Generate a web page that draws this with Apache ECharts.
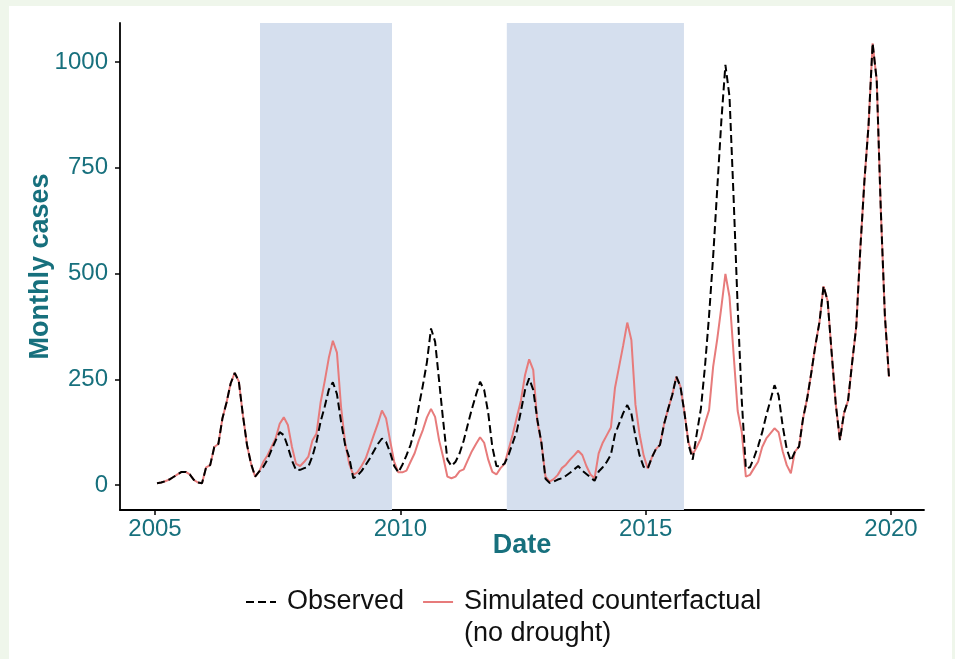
<!DOCTYPE html>
<html><head><meta charset="utf-8">
<script src="https://cdn.jsdelivr.net/npm/echarts@6/dist/echarts.min.js"></script>
<style>
html,body{margin:0;padding:0;background:#eff6eb;width:955px;height:659px;overflow:hidden;}
#frame{position:absolute;left:9px;top:6px;width:943px;height:653px;background:#ffffff;}
#chart{position:absolute;left:0;top:0;width:955px;height:659px;}
</style></head>
<body><div id="frame"></div><div id="chart"></div>
<script>
// Monthly series, Jan 2005 .. Dec 2019
const startYear = 2005;
const observed = [
  4,6,9,13,19,25,31,31,25,12,6,4,
  42,47,90,97,158,195,240,265,245,165,95,50,
  20,32,43,60,83,105,125,118,90,58,35,36,
  40,43,68,102,150,185,225,243,215,150,95,65,
  16,22,33,47,62,80,97,110,102,77,45,30,
  48,70,95,130,185,235,290,370,339,245,150,60,
  45,55,75,105,143,180,213,244,225,170,90,45,
  44,51,72,100,128,175,225,252,225,155,100,15,
  5,8,13,16,22,29,37,45,34,26,18,10,
  32,42,55,72,120,145,170,189,169,115,70,43,
  39,65,85,95,144,180,213,256,233,170,95,60,
  122,180,280,400,540,700,860,993,918,680,420,200,
  39,42,65,92,125,165,200,236,212,140,85,57,
  79,91,158,205,265,330,385,470,435,310,190,106,
  170,200,290,375,560,720,850,1044,957,650,400,256
];
const simulated = [
  4,6,9,13,19,25,31,31,25,12,6,4,
  42,47,90,97,158,195,240,265,245,165,95,50,
  20,32,55,70,90,110,145,160,142,90,50,45,
  55,67,105,122,195,245,300,341,313,185,100,50,
  24,30,45,62,90,118,145,176,158,105,55,30,
  30,34,55,75,105,130,160,180,161,105,65,20,
  16,20,33,37,59,80,97,113,100,60,31,25,
  40,50,85,120,161,200,260,297,272,150,100,20,
  8,14,24,40,48,60,70,81,71,45,25,16,
  75,100,118,136,230,280,330,384,343,190,120,70,
  39,65,85,95,144,180,213,256,233,170,99,72,
  90,110,146,177,280,345,420,499,445,310,175,125,
  20,24,40,55,90,110,122,134,125,80,47,28,
  79,91,158,205,265,330,385,470,435,310,190,106,
  170,200,290,375,560,720,850,1044,957,650,400,256
];
const droughtPeriods = [[2007.14, 2009.83], [2012.17, 2015.78]];
const xTicks = [2005, 2010, 2015, 2020];
const yTicks = [0, 250, 500, 750, 1000];
const seriesNames = ['Observed', 'Simulated counterfactual (no drought)'];
const legendLabels = {'Observed': 'Observed', 'Simulated counterfactual (no drought)': '\nSimulated counterfactual\n(no drought)'};

const teal = '#17707d';
const font = 'Liberation Sans, Arial, Helvetica, sans-serif';
const monthX = i => startYear + (i + 0.5) / 12;
const obsData = observed.map((v, i) => [monthX(i), v]);
const simData = simulated.map((v, i) => [monthX(i), v]);

const chart = echarts.init(document.getElementById('chart'), null, {renderer: 'canvas'});
chart.setOption({
  backgroundColor: 'transparent',
  animation: false,
  textStyle: {fontFamily: font},
  grid: {left: 120, top: 23, right: 31, bottom: 149, containLabel: false},
  xAxis: {
    type: 'value', min: 2004.287, max: 2020.672,
    name: 'Date', nameLocation: 'middle', nameGap: 22, nameMoveOverlap: false,
    nameTextStyle: {color: teal, fontSize: 27, fontWeight: 'bold', fontFamily: font},
    axisLine: {show: true, onZero: false, lineStyle: {color: '#000', width: 1.8}},
    axisTick: {show: true, customValues: xTicks, length: 5, lineStyle: {color: '#000', width: 1.5}},
    axisLabel: {customValues: xTicks, color: teal, fontSize: 24, margin: 7, fontFamily: font,
      formatter: v => String(v)},
    splitLine: {show: false}
  },
  yAxis: {
    type: 'value', min: -59, max: 1092,
    name: 'Monthly cases', nameLocation: 'middle', nameGap: 66, nameMoveOverlap: false,
    nameTextStyle: {color: teal, fontSize: 27, fontWeight: 'bold', fontFamily: font},
    axisLine: {show: true, onZero: false, lineStyle: {color: '#000', width: 1.8}},
    axisTick: {show: true, customValues: yTicks, length: 5, lineStyle: {color: '#000', width: 1.5}},
    axisLabel: {customValues: yTicks, color: teal, fontSize: 24, margin: 12, fontFamily: font,
      formatter: v => String(v)},
    splitLine: {show: false}
  },
  legend: {
    left: 245, top: 554, padding: 0, itemWidth: 30, itemHeight: 14, itemGap: 18,
    itemStyle: {opacity: 0},
    textStyle: {color: '#111', fontSize: 27, fontFamily: font, lineHeight: 32, padding: [0, 0, 0, 6]},
    data: seriesNames,
    formatter: n => legendLabels[n]
  },
  series: [
    {
      name: seriesNames[1], type: 'line', data: simData, symbol: 'none',
      lineStyle: {color: '#e77b7b', width: 2}, itemStyle: {color: '#e77b7b'},
      z: 2,
      markArea: {
        silent: true, itemStyle: {color: '#d5dfee'},
        data: droughtPeriods.map(p => [{xAxis: p[0]}, {xAxis: p[1]}])
      }
    },
    {
      name: seriesNames[0], type: 'line', data: obsData, symbol: 'none',
      lineStyle: {color: '#000', width: 2, type: [8, 4]}, itemStyle: {color: '#000'},
      z: 3
    }
  ]
});
</script>
</body></html>
